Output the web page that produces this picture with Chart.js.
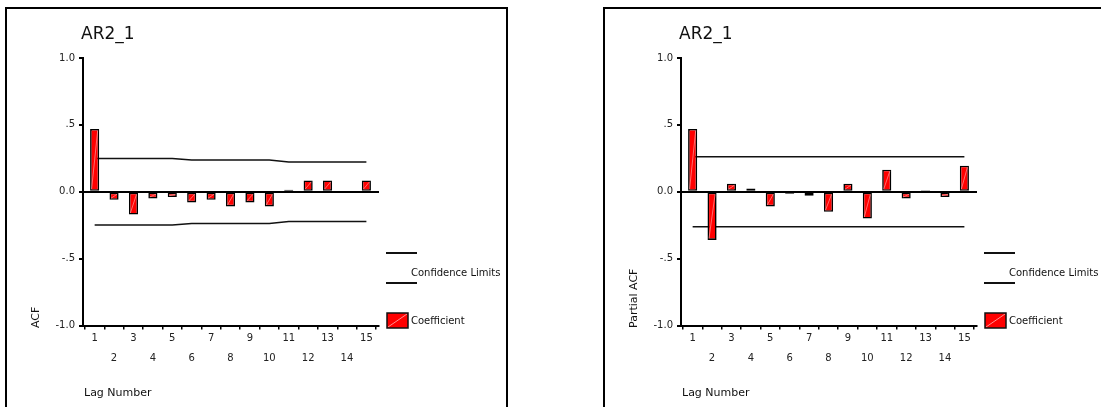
<!DOCTYPE html>
<html>
<head>
<meta charset="utf-8">
<script src="https://cdn.jsdelivr.net/npm/chart.js@4.4.0/dist/chart.umd.min.js"></script>
<style>
  html, body { margin: 0; padding: 0; background: #fff; overflow: hidden; }
  body { width: 1101px; height: 407px; position: relative; }
  .panel { position: absolute; top: 7px; height: 430px; border: 2px solid #000; box-sizing: border-box; }
  #leftPanel { left: 5px; width: 503px; }
  #rightPanel { left: 603px; width: 530px; }
  canvas { position: absolute; top: 0; }
</style>
</head>
<body>
<div class="panel" id="leftPanel"></div>
<div class="panel" id="rightPanel"></div>
<canvas id="acfChart" width="550" height="407" style="left:0"></canvas>
<canvas id="pacfChart" width="550" height="407" style="left:598px"></canvas>
<script>
// lags and coefficients
const lags = [1, 2, 3, 4, 5, 6, 7, 8, 9, 10, 11, 12, 13, 14, 15];
const acf = [0.47, -0.06, -0.17, -0.05, -0.04, -0.08, -0.06, -0.11, -0.08, -0.11, 0.015, 0.085, 0.085, -0.005, 0.085];
const acfUpper = [0.249, 0.249, 0.249, 0.249, 0.249, 0.237, 0.237, 0.237, 0.237, 0.237, 0.222, 0.222, 0.222, 0.222, 0.222];
const acfLower = [-0.249, -0.249, -0.249, -0.249, -0.249, -0.237, -0.237, -0.237, -0.237, -0.237, -0.222, -0.222, -0.222, -0.222, -0.222];
const pacf = [0.47, -0.36, 0.06, 0.025, -0.11, -0.015, -0.03, -0.15, 0.06, -0.2, 0.165, -0.05, 0.012, -0.04, 0.195];
const pacfUpper = [0.262, 0.262, 0.262, 0.262, 0.262, 0.262, 0.262, 0.262, 0.262, 0.262, 0.262, 0.262, 0.262, 0.262, 0.262];
const pacfLower = [-0.262, -0.262, -0.262, -0.262, -0.262, -0.262, -0.262, -0.262, -0.262, -0.262, -0.262, -0.262, -0.262, -0.262, -0.262];
const yTickLabels = { '-1': '-1.0', '-0.5': '-.5', '0': '0.0', '0.5': '.5', '1': '1.0' };

const FONT = '"DejaVu Sans", Verdana, sans-serif';

// faint diagonal stroke inside each bar, like the SPSS fill
const barHatch = {
    id: 'barHatch',
    afterDatasetsDraw(chart) {
        const c = chart.ctx;
        c.save();
        c.strokeStyle = 'rgba(255,190,190,0.8)';
        c.lineWidth = 0.7;
        chart.getDatasetMeta(0).data.forEach(function (bar) {
            const p = bar.getProps(['x', 'y', 'base', 'width'], true);
            const top = Math.min(p.y, p.base), bottom = Math.max(p.y, p.base);
            if (bottom - top < 4) return;
            c.beginPath();
            c.moveTo(p.x - p.width / 2 + 1.5, bottom - 1.5);
            c.lineTo(p.x + p.width / 2 - 1.5, top + 1.5);
            c.stroke();
        });
        c.restore();
    }
};

// titles + SPSS-style legend drawn on the canvas
const panelText = {
    id: 'panelText',
    afterDraw(chart, args, opts) {
        const c = chart.ctx;
        c.save();
        c.fillStyle = '#111';
        c.textBaseline = 'middle';
        c.textAlign = 'left';
        c.font = '17px ' + FONT;
        c.fillText(opts.title, 81, 35);
        c.font = '11px ' + FONT;
        c.fillText('Lag Number', 84, 393);
        c.save();
        c.translate(36, 328);
        c.rotate(-Math.PI / 2);
        c.fillText(opts.yTitle, 0, 0);
        c.restore();

        // legend
        c.strokeStyle = '#111';
        c.lineWidth = 2;
        [253, 283].forEach(function (y) {
            c.beginPath();
            c.moveTo(386, y);
            c.lineTo(417, y);
            c.stroke();
        });
        c.font = '10px ' + FONT;
        c.fillText('Confidence Limits', 411, 273);
        c.fillStyle = '#ff0000';
        c.fillRect(387, 313, 21, 15);
        c.strokeStyle = 'rgba(255,200,200,0.9)';
        c.lineWidth = 0.8;
        c.beginPath();
        c.moveTo(388, 327);
        c.lineTo(407, 314);
        c.stroke();
        c.strokeStyle = '#111';
        c.lineWidth = 1.5;
        c.strokeRect(387, 313, 21, 15);
        c.fillStyle = '#111';
        c.fillText('Coefficient', 411, 321);
        c.restore();
    }
};

function makeChart(id, title, yTitle, coef, upper, lower) {
    const pts = function (arr) { return lags.map(function (l, i) { return { x: l, y: arr[i] }; }); };
    return new Chart(document.getElementById(id), {
        type: 'bar',
        data: {
            datasets: [
                {
                    type: 'bar',
                    data: pts(coef),
                    backgroundColor: '#ff0000',
                    borderColor: '#000',
                    borderWidth: 1.6,
                    borderSkipped: false,
                    barPercentage: 0.47,
                    categoryPercentage: 1,
                    order: 0
                },
                {
                    type: 'line',
                    data: pts(upper),
                    borderColor: '#111',
                    borderWidth: 1.5,
                    pointRadius: 0,
                    tension: 0,
                    fill: false,
                    order: 1
                },
                {
                    type: 'line',
                    data: pts(lower),
                    borderColor: '#111',
                    borderWidth: 1.5,
                    pointRadius: 0,
                    tension: 0,
                    fill: false,
                    order: 1
                }
            ]
        },
        options: {
            responsive: false,
            animation: false,
            layout: { padding: { left: 40, top: 58, right: 171, bottom: 41.5 } },
            plugins: {
                legend: { display: false },
                tooltip: { enabled: false },
                panelText: { title: title, yTitle: yTitle }
            },
            scales: {
                x: {
                    type: 'linear',
                    offset: false,
                    min: 0.4,
                    max: 15.65,
                    afterFit: function (s) { s.height = 40; },
                    afterBuildTicks: function (s) { s.ticks = lags.map(function (v) { return { value: v }; }); },
                    border: { display: true, color: '#000', width: 2 },
                    grid: { drawOnChartArea: false, tickLength: 4, tickColor: '#000', lineWidth: 1.5 },
                    ticks: {
                        autoSkip: false,
                        maxRotation: 0,
                        padding: -1,
                        color: '#222',
                        font: { family: FONT, size: 10, lineHeight: 1.97 },
                        callback: function (v) { return v % 2 === 0 ? ['', String(v)] : String(v); }
                    }
                },
                y: {
                    min: -1,
                    max: 1,
                    afterFit: function (s) { s.width = 43; },
                    border: { display: true, color: '#000', width: 2 },
                    grid: {
                        tickLength: 4,
                        tickColor: '#000',
                        lineWidth: 2,
                        color: function (ctx) { return ctx.tick && ctx.tick.value === 0 ? '#000' : 'rgba(0,0,0,0)'; }
                    },
                    ticks: {
                        stepSize: 0.5,
                        padding: 4,
                        color: '#222',
                        font: { family: FONT, size: 10 },
                        callback: function (v) { return yTickLabels[String(v)]; }
                    }
                }
            }
        },
        plugins: [barHatch, panelText]
    });
}

window.onload = function () {
    makeChart('acfChart', 'AR2_1', 'ACF', acf, acfUpper, acfLower);
    makeChart('pacfChart', 'AR2_1', 'Partial ACF', pacf, pacfUpper, pacfLower);
};
</script>
</body>
</html>
